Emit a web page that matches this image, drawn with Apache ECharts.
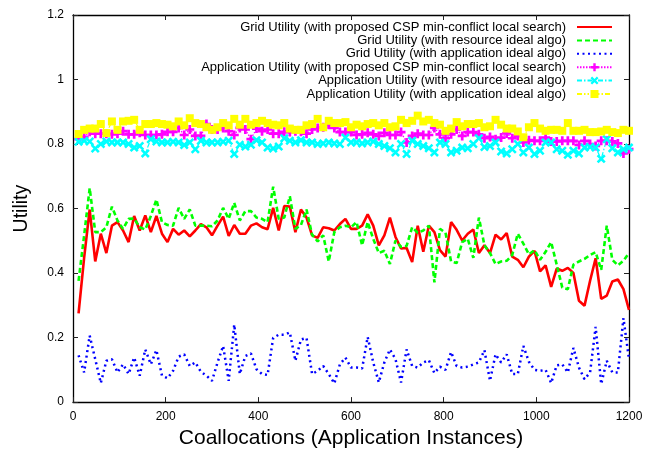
<!DOCTYPE html>
<html>
<head>
<meta charset="utf-8">
<script src="https://cdn.jsdelivr.net/npm/echarts@6/dist/echarts.min.js"></script>
<style>
  html, body { margin: 0; padding: 0; background: #fff; }
  #chart { width: 654px; height: 454px; }
</style>
</head>
<body>
<div id="chart"></div>
<script>
// Sample positions (number of coallocated application instances)
const instances = [
  12, 24, 36, 48, 60, 72, 84, 96, 108, 120,
  132, 144, 156, 168, 180, 192, 204, 216, 228, 240,
  252, 264, 276, 288, 300, 312, 324, 336, 348, 360,
  372, 384, 396, 408, 420, 432, 444, 456, 468, 480,
  492, 504, 516, 528, 540, 552, 564, 576, 588, 600,
  612, 624, 636, 648, 660, 672, 684, 696, 708, 720,
  732, 744, 756, 768, 780, 792, 804, 816, 828, 840,
  852, 864, 876, 888, 900, 912, 924, 936, 948, 960,
  972, 984, 996, 1008, 1020, 1032, 1044, 1056, 1068, 1080,
  1092, 1104, 1116, 1128, 1140, 1152, 1164, 1176, 1188, 1200
];

// Grid utility, proposed CSP min-conflict local search
const gridCsp = [
  0.275, 0.447, 0.597, 0.436, 0.522, 0.462, 0.547, 0.558, 0.532, 0.496,
  0.577, 0.532, 0.579, 0.527, 0.577, 0.522, 0.496, 0.537, 0.519, 0.532,
  0.514, 0.532, 0.552, 0.542, 0.517, 0.547, 0.575, 0.515, 0.549, 0.522,
  0.522, 0.547, 0.554, 0.542, 0.536, 0.602, 0.532, 0.608, 0.606, 0.527,
  0.597, 0.572, 0.517, 0.509, 0.542, 0.539, 0.532, 0.552, 0.568, 0.537,
  0.537, 0.547, 0.582, 0.547, 0.486, 0.517, 0.572, 0.512, 0.476, 0.478,
  0.434, 0.547, 0.466, 0.547, 0.527, 0.471, 0.451, 0.558, 0.534, 0.501,
  0.522, 0.535, 0.462, 0.486, 0.462, 0.519, 0.504, 0.524, 0.451, 0.441,
  0.418, 0.451, 0.469, 0.405, 0.424, 0.357, 0.414, 0.407, 0.416, 0.400,
  0.314, 0.299, 0.376, 0.446, 0.320, 0.330, 0.374, 0.380, 0.350, 0.286
];

// Grid utility, resource ideal algorithm
const gridResource = [
  0.376, 0.516, 0.663, 0.527, 0.527, 0.542, 0.606, 0.563, 0.537, 0.568,
  0.569, 0.542, 0.535, 0.577, 0.628, 0.558, 0.549, 0.547, 0.602, 0.568,
  0.597, 0.547, 0.547, 0.547, 0.545, 0.563, 0.602, 0.568, 0.618, 0.563,
  0.592, 0.592, 0.572, 0.568, 0.558, 0.668, 0.568, 0.572, 0.638, 0.537,
  0.549, 0.597, 0.519, 0.498, 0.517, 0.436, 0.527, 0.542, 0.547, 0.542,
  0.558, 0.486, 0.558, 0.506, 0.462, 0.469, 0.428, 0.501, 0.481, 0.484,
  0.542, 0.525, 0.532, 0.547, 0.371, 0.537, 0.525, 0.436, 0.431, 0.496,
  0.506, 0.447, 0.572, 0.486, 0.462, 0.428, 0.436, 0.438, 0.456, 0.522,
  0.491, 0.458, 0.471, 0.441, 0.466, 0.496, 0.426, 0.355, 0.350, 0.426,
  0.436, 0.444, 0.456, 0.465, 0.410, 0.547, 0.441, 0.424, 0.438, 0.462
];

// Grid utility, application ideal algorithm
const gridApplication = [
  0.145, 0.092, 0.206, 0.133, 0.059, 0.128, 0.133, 0.092, 0.117, 0.087,
  0.138, 0.082, 0.163, 0.117, 0.161, 0.082, 0.074, 0.097, 0.141, 0.148,
  0.112, 0.123, 0.094, 0.082, 0.066, 0.123, 0.174, 0.066, 0.240, 0.087,
  0.143, 0.151, 0.102, 0.087, 0.084, 0.199, 0.209, 0.209, 0.216, 0.128,
  0.194, 0.199, 0.087, 0.097, 0.112, 0.087, 0.058, 0.117, 0.138, 0.107,
  0.107, 0.104, 0.202, 0.123, 0.061, 0.123, 0.163, 0.133, 0.061, 0.163,
  0.112, 0.107, 0.123, 0.130, 0.090, 0.110, 0.100, 0.155, 0.112, 0.107,
  0.110, 0.117, 0.123, 0.161, 0.066, 0.148, 0.123, 0.148, 0.087, 0.087,
  0.174, 0.125, 0.100, 0.097, 0.100, 0.059, 0.114, 0.117, 0.092, 0.168,
  0.107, 0.071, 0.092, 0.233, 0.056, 0.128, 0.092, 0.092, 0.260, 0.133
];

// Application utility, proposed CSP min-conflict local search
const appCsp = [
  0.815, 0.822, 0.838, 0.832, 0.832, 0.832, 0.830, 0.832, 0.840, 0.830,
  0.830, 0.835, 0.828, 0.828, 0.828, 0.830, 0.838, 0.838, 0.850, 0.828,
  0.845, 0.825, 0.825, 0.862, 0.845, 0.845, 0.850, 0.840, 0.828, 0.850,
  0.845, 0.815, 0.848, 0.840, 0.845, 0.832, 0.832, 0.838, 0.837, 0.840,
  0.838, 0.832, 0.845, 0.850, 0.852, 0.860, 0.850, 0.837, 0.837, 0.837,
  0.828, 0.830, 0.835, 0.830, 0.825, 0.835, 0.828, 0.828, 0.837, 0.805,
  0.825, 0.832, 0.828, 0.828, 0.850, 0.830, 0.818, 0.830, 0.845, 0.825,
  0.837, 0.837, 0.830, 0.818, 0.822, 0.815, 0.820, 0.833, 0.818, 0.825,
  0.805, 0.812, 0.810, 0.810, 0.820, 0.808, 0.808, 0.810, 0.810, 0.810,
  0.797, 0.810, 0.800, 0.794, 0.810, 0.810, 0.808, 0.802, 0.771, 0.784
];

// Application utility, resource ideal algorithm
const appResource = [
  0.807, 0.810, 0.808, 0.786, 0.800, 0.808, 0.805, 0.805, 0.805, 0.800,
  0.789, 0.794, 0.771, 0.815, 0.808, 0.805, 0.805, 0.807, 0.805, 0.797,
  0.805, 0.784, 0.810, 0.805, 0.805, 0.805, 0.807, 0.810, 0.769, 0.798,
  0.792, 0.798, 0.812, 0.805, 0.789, 0.786, 0.792, 0.818, 0.810, 0.805,
  0.812, 0.805, 0.805, 0.800, 0.802, 0.805, 0.802, 0.800, 0.820, 0.805,
  0.805, 0.802, 0.805, 0.808, 0.800, 0.794, 0.787, 0.774, 0.800, 0.769,
  0.810, 0.800, 0.794, 0.787, 0.774, 0.805, 0.800, 0.774, 0.779, 0.789,
  0.787, 0.800, 0.818, 0.791, 0.794, 0.805, 0.777, 0.771, 0.784, 0.800,
  0.774, 0.789, 0.769, 0.779, 0.805, 0.805, 0.784, 0.779, 0.767, 0.779,
  0.771, 0.789, 0.791, 0.789, 0.754, 0.815, 0.787, 0.774, 0.784, 0.789
];

// Application utility, application ideal algorithm
const appApplication = [
  0.831, 0.844, 0.848, 0.848, 0.862, 0.834, 0.870, 0.844, 0.870, 0.872,
  0.875, 0.844, 0.862, 0.862, 0.865, 0.862, 0.860, 0.855, 0.870, 0.858,
  0.880, 0.865, 0.862, 0.852, 0.844, 0.852, 0.865, 0.858, 0.878, 0.860,
  0.878, 0.860, 0.865, 0.872, 0.865, 0.860, 0.858, 0.865, 0.848, 0.844,
  0.844, 0.858, 0.862, 0.878, 0.852, 0.872, 0.865, 0.865, 0.868, 0.852,
  0.860, 0.855, 0.862, 0.865, 0.858, 0.865, 0.852, 0.855, 0.875, 0.865,
  0.872, 0.888, 0.870, 0.875, 0.865, 0.860, 0.841, 0.848, 0.868, 0.855,
  0.862, 0.862, 0.865, 0.852, 0.855, 0.875, 0.860, 0.848, 0.848, 0.839,
  0.821, 0.852, 0.865, 0.848, 0.841, 0.844, 0.844, 0.841, 0.865, 0.841,
  0.841, 0.844, 0.837, 0.837, 0.839, 0.844, 0.837, 0.834, 0.844, 0.841
];

const seriesNames = [
  'Grid Utility (with proposed CSP min-conflict local search)',
  'Grid Utility (with resource ideal algo)',
  'Grid Utility (with application ideal algo)',
  'Application Utility (with proposed CSP min-conflict local search)',
  'Application Utility (with resource ideal algo)',
  'Application Utility (with application ideal algo)'
];

const xTicks = { min: 0, max: 1200, step: 200 };
const yTicks = { min: 0, max: 1.2, step: 0.2 };

const FONT = 'Liberation Sans, Arial, Helvetica, sans-serif';

// Point glyphs
const PLUS = 'path://M3.5,0 H6.5 V3.5 H10 V6.5 H6.5 V10 H3.5 V6.5 H0 V3.5 H3.5 Z';
const CROSS = 'path://M0,2 L2,0 L5,3 L8,0 L10,2 L7,5 L10,8 L8,10 L5,7 L2,10 L0,8 L3,5 Z';

function pairs(values) {
  return instances.map((x, i) => [x, values[i]]);
}

function lineSeries(name, values, color, width, dash, symbol, symbolSize) {
  return {
    name: name,
    type: 'line',
    data: pairs(values),
    xAxisIndex: 0,
    yAxisIndex: 0,
    symbol: symbol || 'none',
    symbolSize: symbolSize || 0,
    showSymbol: !!symbol,
    showAllSymbol: true,
    itemStyle: { color: color },
    lineStyle: { color: color, width: width, type: dash },
    emphasis: { disabled: true },
    animation: false
  };
}

const axisCommon = {
  type: 'value',
  axisLine: { show: true, onZero: false, lineStyle: { color: '#000', width: 1.3 } },
  axisTick: { show: true, inside: true, length: 5, lineStyle: { color: '#222', width: 1 } },
  splitLine: { show: false }
};

const chart = echarts.init(document.getElementById('chart'), null, { renderer: 'canvas' });

chart.setOption({
  backgroundColor: '#fff',
  animation: false,
  textStyle: { fontFamily: FONT },
  grid: { left: 73, right: 25, top: 15, bottom: 44, containLabel: false },
  legend: {
    orient: 'vertical',
    align: 'right',
    right: 41,
    top: 20.5,
    padding: 0,
    itemWidth: 35,
    itemHeight: 10,
    itemGap: 0.4,
    selectedMode: false,
    textStyle: { fontFamily: FONT, fontSize: 13, color: '#000', lineHeight: 12.3, padding: [0, 6, 0, 0] },
    data: seriesNames.map((n, i) => (i < 3 ? { name: n, itemStyle: { opacity: 0 } } : { name: n }))
  },
  xAxis: [
    Object.assign({}, axisCommon, {
      position: 'bottom',
      min: xTicks.min, max: xTicks.max, interval: xTicks.step,
      axisLabel: { color: '#000', fontSize: 12, fontFamily: FONT, margin: 9, formatter: v => String(v) },
      name: 'Coallocations (Application Instances)',
      nameLocation: 'middle',
      nameGap: 21,
      nameTextStyle: { fontSize: 21, fontFamily: FONT, color: '#000' }
    }),
    Object.assign({}, axisCommon, {
      position: 'top',
      min: xTicks.min, max: xTicks.max, interval: xTicks.step,
      axisLabel: { show: false }
    })
  ],
  yAxis: [
    Object.assign({}, axisCommon, {
      position: 'left',
      min: yTicks.min, max: yTicks.max, interval: yTicks.step,
      axisLabel: { color: '#000', fontSize: 12, fontFamily: FONT, margin: 9 },
      name: 'Utility',
      nameLocation: 'middle',
      nameRotate: 90,
      nameGap: 41,
      nameTextStyle: { fontSize: 19.5, fontFamily: FONT, color: '#000' }
    }),
    Object.assign({}, axisCommon, {
      position: 'right',
      min: yTicks.min, max: yTicks.max, interval: yTicks.step,
      axisLabel: { show: false }
    })
  ],
  series: [
    lineSeries(seriesNames[0], gridCsp, '#ff0000', 2.6, 'solid'),
    lineSeries(seriesNames[1], gridResource, '#00ff00', 2.6, [5, 3]),
    lineSeries(seriesNames[2], gridApplication, '#0000ff', 2.5, [2, 3.5]),
    lineSeries(seriesNames[3], appCsp, '#ff00ff', 1.2, [1.5, 1.5], PLUS, 9),
    lineSeries(seriesNames[4], appResource, '#00ffff', 1.2, [5, 2, 1.5, 2], CROSS, 9),
    lineSeries(seriesNames[5], appApplication, '#ffff00', 1.2, [5, 2, 1.5, 2, 1.5, 2], 'rect', 8)
  ]
});
</script>
</body>
</html>
